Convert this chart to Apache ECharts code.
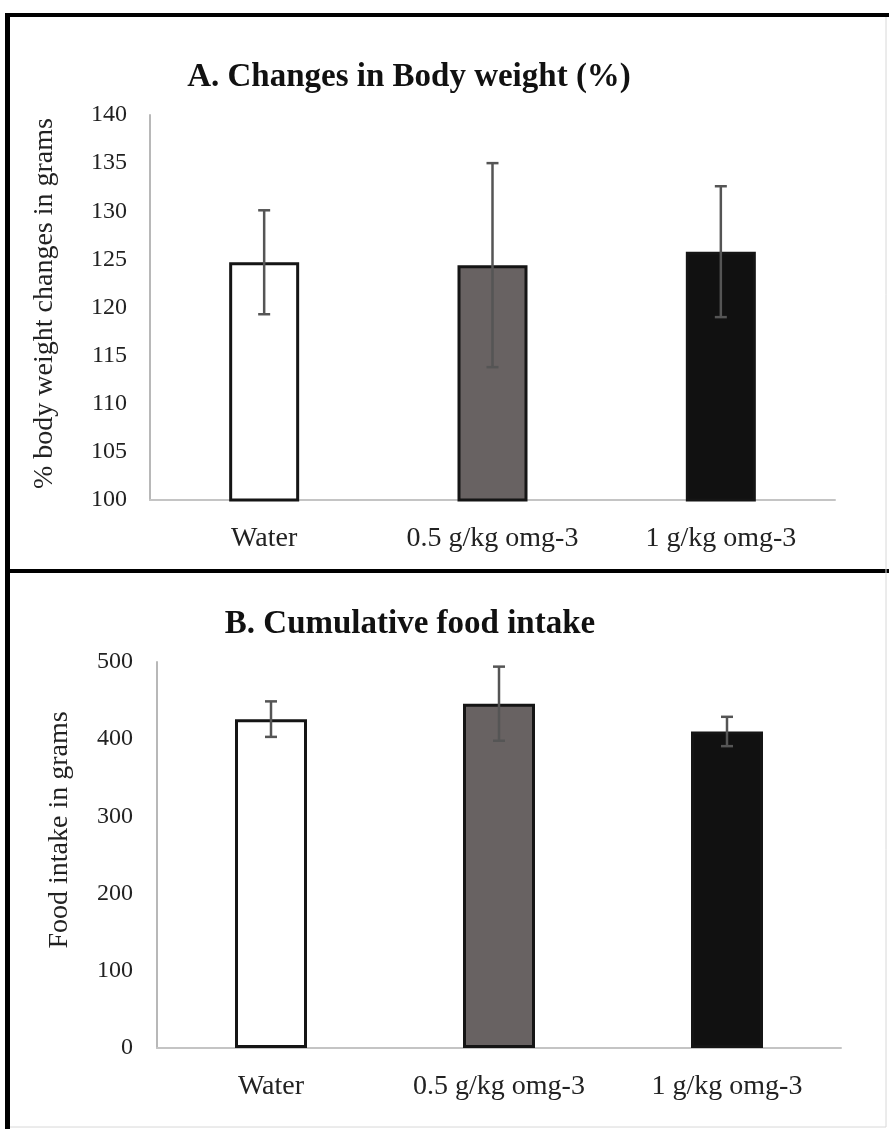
<!DOCTYPE html>
<html><head><meta charset="utf-8">
<script src="https://cdn.jsdelivr.net/npm/echarts@6/dist/echarts.min.js"></script>
<style>html,body{margin:0;padding:0;background:#fff}#c{width:889px;height:1129px}</style>
</head><body><div id="c"></div>
<script>
const categories = ['Water', '0.5 g/kg omg-3', '1 g/kg omg-3'];
const weightMean = [124.7, 124.4, 125.8];
const weightErr = [5.4, 10.6, 6.8];
const foodMean = [426, 446, 410];
const foodErr = [23, 48, 19];
const weightAxis = { min: 100, max: 140, interval: 5 };
const foodAxis = { min: 0, max: 500, interval: 100 };
const titleA = 'A. Changes in Body weight (%)';
const titleB = 'B. Cumulative food intake';
const yNameA = '% body weight changes in grams';
const yNameB = 'Food intake in grams';

const FONT = '"Liberation Serif", "Times New Roman", serif';
const fills = ['#ffffff', '#686262', '#111111'];

function barData(vals) {
  return vals.map((v, i) => ({ value: v, itemStyle: { color: fills[i], borderColor: '#151515', borderWidth: 3 } }));
}
function errData(mean, err) {
  return mean.map((m, i) => [i, m - err[i], m + err[i]]);
}
function errRender(params, api) {
  const x = api.value(0), lo = api.value(1), hi = api.value(2);
  const a = api.coord([x, lo]), b = api.coord([x, hi]);
  const hw = 6;
  const st = { stroke: '#555', lineWidth: 2.5 };
  return { type: 'group', children: [
    { type: 'line', shape: { x1: a[0], y1: a[1], x2: b[0], y2: b[1] }, style: st },
    { type: 'line', shape: { x1: b[0] - hw, y1: b[1], x2: b[0] + hw, y2: b[1] }, style: st },
    { type: 'line', shape: { x1: a[0] - hw, y1: a[1], x2: a[0] + hw, y2: a[1] }, style: st }
  ]};
}
function xAx(gi) {
  return { type: 'category', gridIndex: gi, data: categories,
    axisLine: { lineStyle: { color: '#c4c4c4', width: 2 } },
    axisTick: { show: false },
    axisLabel: { fontFamily: FONT, fontSize: 28, color: '#222', margin: 25 } };
}
function yAx(gi, ax, name, gap, margin, pad) {
  return { type: 'value', gridIndex: gi, min: ax.min, max: ax.max, interval: ax.interval,
    name: name, nameLocation: 'middle', nameRotate: 90, nameGap: gap,
    nameTextStyle: { fontFamily: FONT, fontSize: 28, color: '#222', padding: pad },
    axisLine: { show: true, lineStyle: { color: '#b8b8b8', width: 2 } },
    axisTick: { show: false }, splitLine: { show: false },
    axisLabel: { fontFamily: FONT, fontSize: 24, color: '#222', margin: margin } };
}

const chart = echarts.init(document.getElementById('c'), null, { renderer: 'canvas' });
chart.setOption({
  backgroundColor: '#fff',
  animation: false,
  title: [
    { text: titleA, left: 404, top: 56, textAlign: 'center',
      textStyle: { fontFamily: FONT, fontSize: 33, fontWeight: 'bold', color: '#111' } },
    { text: titleB, left: 405, top: 603, textAlign: 'center',
      textStyle: { fontFamily: FONT, fontSize: 33, fontWeight: 'bold', color: '#111' } }
  ],
  grid: [
    { left: 150, right: 54, top: 115, height: 385 },
    { left: 157, right: 48, top: 662, height: 386 }
  ],
  xAxis: [xAx(0), xAx(1)],
  yAxis: [yAx(0, weightAxis, yNameA, 91, 23, [0, 0, 0, 8]), yAx(1, foodAxis, yNameB, 83, 24, [0, 0, 0, 50])],
  series: [
    { type: 'bar', xAxisIndex: 0, yAxisIndex: 0, barWidth: 70, data: barData(weightMean), z: 2 },
    { type: 'custom', xAxisIndex: 0, yAxisIndex: 0, data: errData(weightMean, weightErr),
      renderItem: errRender, encode: { x: 0, y: [1, 2] }, z: 5 },
    { type: 'bar', xAxisIndex: 1, yAxisIndex: 1, barWidth: 72, data: barData(foodMean), z: 2 },
    { type: 'custom', xAxisIndex: 1, yAxisIndex: 1, data: errData(foodMean, foodErr),
      renderItem: errRender, encode: { x: 0, y: [1, 2] }, z: 5 }
  ],
  graphic: [
    { type: 'rect', shape: { x: 5, y: 13, width: 884, height: 4 }, style: { fill: '#000' } },
    { type: 'rect', shape: { x: 5, y: 13, width: 5, height: 1116 }, style: { fill: '#000' } },
    { type: 'rect', shape: { x: 5, y: 569, width: 884, height: 4 }, style: { fill: '#000' } },
    { type: 'line', shape: { x1: 886, y1: 17, x2: 886, y2: 1127 }, style: { stroke: '#d8d8d8', lineWidth: 1 } },
    { type: 'line', shape: { x1: 10, y1: 1127, x2: 886, y2: 1127 }, style: { stroke: '#d8d8d8', lineWidth: 1 } }
  ]
});
</script>
</body></html>
